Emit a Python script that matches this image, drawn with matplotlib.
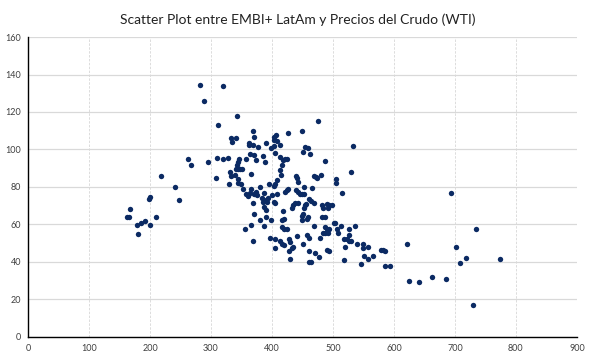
import matplotlib.pyplot as plt

# EMBI+ LatAm (x) vs WTI (y)
left_x = [163, 166, 168, 179, 181, 186, 191, 199, 200.5, 200.5, 210, 218.6, 241, 248]
left_y = [64, 64, 68, 59.5, 55, 61, 62, 73.4, 74.5, 59.5, 64, 86, 80, 73]

upper_x = [282.5, 319.7, 289, 343, 312, 369.4, 371, 332.8, 335, 341.5, 362.8, 362.3, 369.4,
           377.6, 390.7, 403.3, 407, 403.3, 407.6, 413.6, 403.3, 398.9, 426.7, 449.7, 476,
           454.6, 459, 451, 462.8, 405.4, 364, 371, 385.7, 374.3, 389, 413.6, 418.5, 421.8,
           425, 417, 413.6, 415.2, 408.7, 405.4, 403.8, 395.6, 380.8, 366, 357.9, 346.4,
           344.8, 343.1, 344.8, 348, 351.3, 341.5, 331.6, 333.3, 330, 344.8, 344.8, 349.7,
           308.7, 328.4, 320.2, 310.3, 295.6, 262.8, 267.7, 353, 366, 439.8, 441.5, 443.1,
           453, 466, 426.7, 439.8, 469.3, 472.6, 474.3, 480.8, 533.3, 487.4, 530, 505.4,
           505.4, 339.8]
upper_y = [134.6, 134, 126, 117.6, 113, 110, 106.7, 106, 104, 106.2, 103.3, 102.3, 102.5,
           101.4, 103.6, 106.7, 107.5, 105.2, 104.5, 102.5, 101.6, 100.9, 108.9, 110.1, 115.4,
           101.4, 100.9, 98.8, 97.7, 98.2, 97.7, 97.2, 96.6, 94.5, 93.5, 96.1, 94.5, 95,
           95, 91.9, 89.2, 86.5, 83.9, 81.8, 80.5, 81.8, 80.2, 87.1, 95, 95,
           93.5, 91.9, 89.7, 89.7, 89.7, 89.7, 88.1, 86, 81.8, 84.4, 82.3, 81.8,
           84.9, 95.6, 95, 95.6, 93.5, 95, 91.9, 79.1, 79.1, 86, 84.9, 82.8,
           80.2, 79.6, 79.1, 78.6, 86, 85.5, 84.9, 86.5, 102, 94, 88.1, 84.4,
           82.3, 86.5]

mid_x = [515.3, 693.4, 449.7, 453, 461, 464.4, 469.3, 454.6, 456.2, 453, 449.7, 451.3, 449.7,
         482.5, 484, 490.7, 494, 499, 492.3, 482.5, 487.4, 469.3, 487.4, 490.7, 494, 484,
         487.4, 492.3, 502, 503.8, 507, 508.7, 513.6, 526.7, 526.7, 536.6, 518.5, 523.4,
         526.7, 530, 520.2, 539.8, 549.7, 549.7, 557.9, 551.3, 557.9, 546.4, 566, 518.5,
         477.5, 451.3, 471, 461, 461, 464.4, 457.9, 461, 479.2, 490.7, 494, 579.2, 582.5,
         585.7, 585.7, 594, 621.8, 625.1, 641.5, 663, 685.2, 702.1, 708.7, 718.5, 735,
         730, 774.3, 457.9, 459.5]
mid_y = [77, 77, 76.4, 76.4, 73.8, 72.7, 71.6, 70.6, 71.1, 68.5, 64.7, 65.8, 62.6,
         70.6, 68.5, 71.1, 70.6, 70.6, 68.5, 64.2, 63.7, 59.4, 58.4, 57.8, 57.3, 55.2,
         55.2, 55.2, 61, 60.5, 57.8, 55.2, 59.4, 57.3, 54.6, 59.4, 52, 52,
         51.4, 50.9, 48.2, 49.3, 49.8, 47.2, 47.7, 42.9, 41.3, 38.7, 42.9, 40.8,
         42.4, 49.8, 45, 45.6, 39.7, 39.7, 54.1, 53, 52.5, 46.6, 45.6, 46.6, 46.1,
         45.6, 37.6, 37.6, 49.8, 29.6, 29.1, 31.8, 30.7, 48.2, 39.2, 41.9, 57.8,
         16.9, 41.3, 63.1, 63.7]

core_x = [357.9, 361.1, 364.4, 371, 374.3, 375.9, 369.4, 371, 356.2, 366, 369.4, 380.8, 384.1,
          385.7, 387.4, 390.7, 393.9, 392.3, 387.4, 390.7, 387.4, 390.7, 398.9, 400, 403.8,
          405.4, 408.7, 397.2, 405.4, 405.4, 413.6, 417, 418.5, 417, 420.2, 417, 420.2, 425,
          421.8, 425, 420.2, 428.4, 430, 428.4, 433.3, 434.9, 430, 433.3, 434.9, 443.1,
          446.4, 443.1, 441.5, 438.2]
core_y = [76.4, 75.4, 77, 76.4, 77.5, 75.9, 71.6, 65.3, 57.8, 59.9, 50.9, 62.1, 74.3,
          72.2, 77, 73.2, 74.3, 72.2, 69.5, 67.9, 59.4, 64.2, 62.6, 75.9, 72.2,
          71.6, 76.4, 52.5, 52, 47.2, 50.9, 49.8, 66.9, 62.6, 63.1, 58.4, 57.3, 57.3,
          77.5, 78.6, 48.8, 52, 50.4, 45.6, 47.2, 48.2, 41.3, 68.5, 70.6, 77.5,
          76.4, 71.6, 53.6, 71.6]

x = left_x + upper_x + mid_x + core_x
y = left_y + upper_y + mid_y + core_y

plt.rcParams['font.family'] = ['Lato', 'DejaVu Sans']
fig = plt.figure(figsize=(5.96, 3.63), dpi=100)
ax = fig.add_axes([0.047, 0.072, 0.921, 0.826])

ax.scatter(x, y, s=15, color='#0b2a63', zorder=3, linewidths=0)

ax.set_xlim(0, 900)
ax.set_ylim(0, 160)
ax.set_xticks(range(0, 901, 100))
ax.set_yticks(range(0, 161, 20))
ax.tick_params(length=0, labelsize=6.5, labelcolor='#404040', pad=5)

ax.yaxis.grid(True, color='#d9d9d9', linewidth=0.9, linestyle='-')
ax.xaxis.grid(True, color='#dcdcdc', linewidth=0.7, linestyle=(0, (2.5, 1.5)))
ax.set_axisbelow(True)

ax.spines['top'].set_visible(False)
ax.spines['right'].set_visible(False)
ax.spines['left'].set_color('black')
ax.spines['bottom'].set_color('black')
ax.spines['left'].set_linewidth(1.0)
ax.spines['bottom'].set_linewidth(1.0)

fig.text(0.5, 0.945, 'Scatter Plot entre EMBI+ LatAm y Precios del Crudo (WTI)',
         ha='center', va='center', fontsize=10, color='#222222')

fig.savefig('out.png', dpi=100)
